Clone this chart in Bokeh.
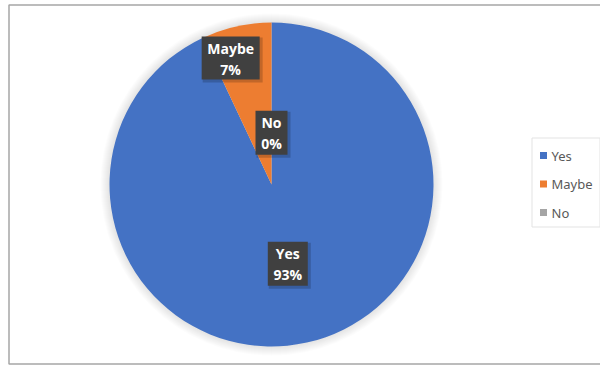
import math
from bokeh.plotting import figure
from bokeh.models import Range1d
from bokeh.core.properties import value
from bokeh.embed import file_html
from bokeh.resources import INLINE

# ---- data ----
categories = ["Yes", "Maybe", "No"]
percents = [93, 7, 0]
colors = ["#4472C4", "#ED7D31", "#A5A5A5"]

# ---- layout / style ----
W, H = 600, 365
CX, CY = 271, H - 184
R = 162
label_r_frac = [0.50, 0.82, 0.32]
label_angle_shift = [-1.0, 5.3, 0.0]
box_w = [40, 58, 32]
box_h = [44, 43, 44]

p = figure(width=W, height=H, output_backend="svg", toolbar_location=None,
           x_range=Range1d(0, W), y_range=Range1d(0, H), min_border=0)
p.axis.visible = False
p.grid.visible = False
p.outline_line_color = None
p.background_fill_color = "white"
p.border_fill_color = "white"

# outer chart border
p.quad(left=[8.5], right=[W + 5], top=[H - 4.5], bottom=[H - 363.5],
       fill_color=None, line_color="#A6A6A6", line_width=1.5)

# soft pie shadow
for k in range(1, 10):
    p.circle(x=[CX], y=[CY], radius=R + k, fill_color="#808080",
             fill_alpha=0.022, line_color=None)

total = sum(percents)
start = 90.0
for cat, pct, col in zip(categories, percents, colors):
    sweep = 360.0 * pct / total
    end = start - sweep
    if sweep > 0:
        p.wedge(x=[CX], y=[CY], radius=R, start_angle=math.radians(start),
                end_angle=math.radians(end), direction="clock",
                fill_color=col, line_color=None)
    start = end

# data labels
start = 90.0
for i, (cat, pct) in enumerate(zip(categories, percents)):
    sweep = 360.0 * pct / total
    mid = start - sweep / 2 + label_angle_shift[i]
    start -= sweep
    rr = R * label_r_frac[i]
    lx = CX + rr * math.cos(math.radians(mid))
    ly = CY + rr * math.sin(math.radians(mid))
    # shadow
    p.rect(x=[lx + 2], y=[ly - 2], width=box_w[i] + 2, height=box_h[i] + 2,
           fill_color="#000000", fill_alpha=0.18, line_color=None)
    p.rect(x=[lx], y=[ly], width=box_w[i], height=box_h[i],
           fill_color="#404040", line_color=None)
    p.text(x=[lx], y=[ly + 10], text=[cat], text_align="center",
           text_baseline="middle", text_color="white",
           text_font=value("Open Sans"), text_font_style="bold",
           text_font_size="14px")
    p.text(x=[lx], y=[ly - 11], text=[f"{pct}%"], text_align="center",
           text_baseline="middle", text_color="white",
           text_font=value("Open Sans"), text_font_style="bold",
           text_font_size="14px")

# legend
p.quad(left=[531.5], right=[599.5], top=[H - 137.5], bottom=[H - 226.5],
       fill_color="white", line_color="#E3E3E3", line_width=1)
leg_y = [H - 155 - 28.5 * i for i in range(len(categories))]
p.scatter(x=[543] * len(categories), y=leg_y, marker="square", size=7,
          fill_color=colors, line_color=None)
p.text(x=[551] * len(categories), y=leg_y, text=categories,
       text_align="left", text_baseline="middle", text_color="#595959",
       text_font=value("Noto Sans"), text_font_size="13px")

open("out.html", "w").write(file_html(p, INLINE))
